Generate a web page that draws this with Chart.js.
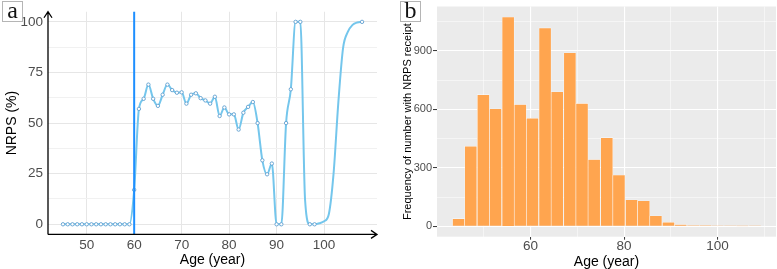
<!DOCTYPE html>
<html>
<head>
<meta charset="utf-8">
<script src="https://cdn.jsdelivr.net/npm/chart.js@4.4.1/dist/chart.umd.min.js"></script>
<style>
  html, body { margin: 0; padding: 0; background: #fff; }
  body { width: 777px; height: 269px; position: relative; overflow: hidden; }
  canvas { position: absolute; top: 0; }
  #chartA { left: 0; }
  #chartB { left: 385px; }
  .tag {
    position: absolute; top: 1px; width: 19px; height: 19px;
    border: 1px solid #b5b5b5; background: #fff; color: #111;
    font-family: "Liberation Serif", "DejaVu Serif", serif;
    font-size: 24px; line-height: 16px; text-align: center; z-index: 2;
  }
</style>
</head>
<body>
<canvas id="chartA" width="385" height="269"></canvas>
<canvas id="chartB" width="392" height="269"></canvas>
<div class="tag" style="left:2px">a</div>
<div class="tag" style="left:400px">b</div>
<script>
// panel a: share receiving NRPS by age
const ages = [45, 46, 47, 48, 49, 50, 51, 52, 53, 54, 55, 56, 57, 58, 59,
  60, 61, 62, 63, 64, 65, 66, 67, 68, 69, 70, 71, 72, 73, 74, 75, 76, 77, 78, 79,
  80, 81, 82, 83, 84, 85, 86, 87, 88, 89, 90, 91, 92, 93, 94, 95, 96, 97, 98, 99,
  100, 101, 102, 103, 104, 105, 106, 107, 108];
const nrpsShare = [0, 0, 0, 0, 0, 0, 0, 0, 0, 0, 0, 0, 0, 0, 0,
  17, 57, 62, 69, 62, 58.5, 64, 69, 66.3, 65, 65.2, 59.6, 64, 64.7, 62.3, 61.2, 59.6, 63, 53.5, 57.7,
  54.3, 54.3, 46.8, 55.1, 58, 60.4, 50, 31.6, 24.7, 30, 0, 0, 50, 66.7, 100, 100, 12, 0, 0, 0.5,
  1.5, 5, 25, 60, 87, 95, 98.5, 99.7, 100];
const cutoffAge = 60;
const ageTicksA = [50, 60, 70, 80, 90, 100];
const shareTicks = [0, 12.5, 25, 37.5, 50, 62.5, 75, 87.5, 100];

// panel b: histogram of age at NRPS receipt
const binCenters = [44.6, 47.2, 49.9, 52.5, 55.2, 57.8, 60.4, 63.1, 65.7, 68.4, 71.0, 73.6,
  76.3, 78.9, 81.6, 84.2, 86.8, 89.5, 92.1, 94.8, 97.4, 100.0, 102.7, 105.3, 108.0];
const binCounts = [39, 411, 676, 603, 1075, 625, 555, 1019, 691, 891, 631, 343,
  455, 263, 136, 131, 54, 20, 8, 4, 3, 2, 2, 1, 2];
const ageTicksB = [50, 60, 70, 80, 90, 100, 110];
const countTicks = [0, 150, 300, 450, 600, 750, 900, 1050];

const sans = "'Liberation Sans', Arial, Helvetica, sans-serif";
const tickGrey = '#4d4d4d';

const axisArrows = {
  id: 'axisArrows',
  afterDraw(chart) {
    const { ctx, chartArea: { left, right, top, bottom } } = chart;
    ctx.save();
    ctx.strokeStyle = '#000';
    ctx.lineWidth = 1.3;
    ctx.beginPath();
    ctx.moveTo(left, bottom); ctx.lineTo(left, top);
    ctx.moveTo(left, bottom); ctx.lineTo(right, bottom);
    ctx.moveTo(left - 4, top + 6); ctx.lineTo(left, top); ctx.lineTo(left + 4, top + 6);
    ctx.moveTo(right - 6, bottom - 4); ctx.lineTo(right, bottom); ctx.lineTo(right - 6, bottom + 4);
    ctx.stroke();
    ctx.restore();
  }
};

const cutoffLine = {
  id: 'cutoffLine',
  afterDatasetsDraw(chart) {
    const { ctx, chartArea: { top, bottom } } = chart;
    const x = chart.scales.x.getPixelForValue(cutoffAge);
    ctx.save();
    ctx.strokeStyle = '#1e8fff';
    ctx.lineWidth = 2;
    ctx.beginPath();
    ctx.moveTo(x, top); ctx.lineTo(x, bottom);
    ctx.stroke();
    ctx.restore();
  }
};

const greyPanel = {
  id: 'greyPanel',
  beforeDraw(chart) {
    const { ctx, chartArea: a } = chart;
    ctx.save();
    ctx.fillStyle = '#ebebeb';
    ctx.fillRect(a.left, a.top, a.right - a.left, a.bottom - a.top);
    ctx.restore();
  }
};

// markers are not shown on the steep fall after 95 nor on the late rise
const hasMarker = age => age !== 96 && !(age > 98 && age < 108);

new Chart(document.getElementById('chartA'), {
  type: 'line',
  data: {
    datasets: [{
      data: ages.map((a, i) => ({ x: a, y: nrpsShare[i] })),
      borderColor: '#74c6ec',
      borderWidth: 2,
      cubicInterpolationMode: 'monotone',
      pointRadius: c => (c.raw && !hasMarker(c.raw.x)) ? 0 : 1.7,
      pointBorderWidth: 0.9,
      pointBorderColor: '#5f9fd0',
      pointBackgroundColor: '#ffffff'
    }]
  },
  options: {
    responsive: false,
    animation: false,
    devicePixelRatio: 1,
    layout: { padding: { top: 5.6, right: 8, left: 0, bottom: 0 } },
    plugins: { legend: { display: false }, tooltip: { enabled: false } },
    scales: {
      x: {
        type: 'linear', min: 41.85, max: 111.15,
        afterBuildTicks: s => { s.ticks = ageTicksA.map(v => ({ value: v })); },
        afterFit: s => { s.height = 34.6; },
        border: { display: false },
        grid: { color: '#e6e6e6', lineWidth: 1, drawTicks: false },
        ticks: { autoSkip: false, maxRotation: 0, padding: 4, color: tickGrey,
          font: { family: sans, size: 13.5, lineHeight: 1 } },
        title: { display: true, text: 'Age (year)', color: '#000',
          font: { family: sans, size: 14, lineHeight: 1 }, padding: { top: 0, bottom: 2 } }
      },
      y: {
        min: -5, max: 105,
        afterBuildTicks: s => { s.ticks = shareTicks.map(v => ({ value: v })); },
        afterFit: s => { s.width = 48; },
        border: { display: false },
        grid: {
          color: c => (c.tick && c.tick.value % 25 === 0) ? '#e6e6e6' : '#f1f1f1',
          lineWidth: 1, drawTicks: false
        },
        ticks: { autoSkip: false, padding: 5, color: tickGrey,
          callback: v => v % 25 === 0 ? v : '',
          font: { family: sans, size: 13.5, lineHeight: 1 } },
        title: { display: true, text: 'NRPS (%)', color: '#000',
          font: { family: sans, size: 14, lineHeight: 1 }, padding: { top: 5, bottom: 0 } }
      }
    }
  },
  plugins: [cutoffLine, axisArrows]
});

new Chart(document.getElementById('chartB'), {
  type: 'bar',
  data: {
    datasets: [{
      data: binCenters.map((c, i) => ({ x: c, y: binCounts[i] })),
      backgroundColor: '#ffa54f',
      borderColor: 'rgba(255,255,255,0.7)',
      borderWidth: 0.6,
      barPercentage: 1,
      categoryPercentage: 1
    }]
  },
  options: {
    responsive: false,
    animation: false,
    devicePixelRatio: 1,
    layout: { padding: { top: 4, right: 1, left: 0, bottom: 0 } },
    plugins: { legend: { display: false }, tooltip: { enabled: false } },
    scales: {
      x: {
        type: 'linear', min: 39.98, max: 112.5, offset: false,
        afterBuildTicks: s => { s.ticks = ageTicksB.map(v => ({ value: v })); },
        afterFit: s => { s.height = 32.3; },
        border: { display: false },
        grid: {
          offset: false,
          color: '#ffffff',
          lineWidth: c => (c.tick && c.tick.value % 20 === 0) ? 1.1 : 0.5,
          tickColor: c => (c.tick && c.tick.value % 20 === 0) ? '#333333' : 'rgba(0,0,0,0)',
          tickLength: 3, tickWidth: 1
        },
        ticks: { autoSkip: false, maxRotation: 0, padding: 0, color: tickGrey,
          callback: v => v % 20 === 0 ? v : '',
          font: { family: sans, size: 13.5, lineHeight: 1 } },
        title: { display: true, text: 'Age (year)', color: '#000',
          font: { family: sans, size: 14, lineHeight: 1 }, padding: { top: 0, bottom: 0 } }
      },
      y: {
        min: -53.75, max: 1128.75,
        afterBuildTicks: s => { s.ticks = countTicks.map(v => ({ value: v })); },
        afterFit: s => { s.width = 52; },
        border: { display: false },
        grid: {
          color: '#ffffff',
          lineWidth: c => (c.tick && c.tick.value % 300 === 0) ? 1.1 : 0.5,
          tickColor: c => (c.tick && c.tick.value % 300 === 0) ? '#333333' : 'rgba(0,0,0,0)',
          tickLength: 4, tickWidth: 1
        },
        ticks: { autoSkip: false, padding: 1, color: tickGrey,
          callback: v => v % 300 === 0 ? v : '',
          font: { family: sans, size: 11, lineHeight: 1 } },
        title: { display: true, text: 'Frequency of number with NRPS receipt', color: '#000',
          font: { family: sans, size: 11, lineHeight: 1 }, padding: { top: 17, bottom: 0 } }
      }
    }
  },
  plugins: [greyPanel]
});
</script>
</body>
</html>
